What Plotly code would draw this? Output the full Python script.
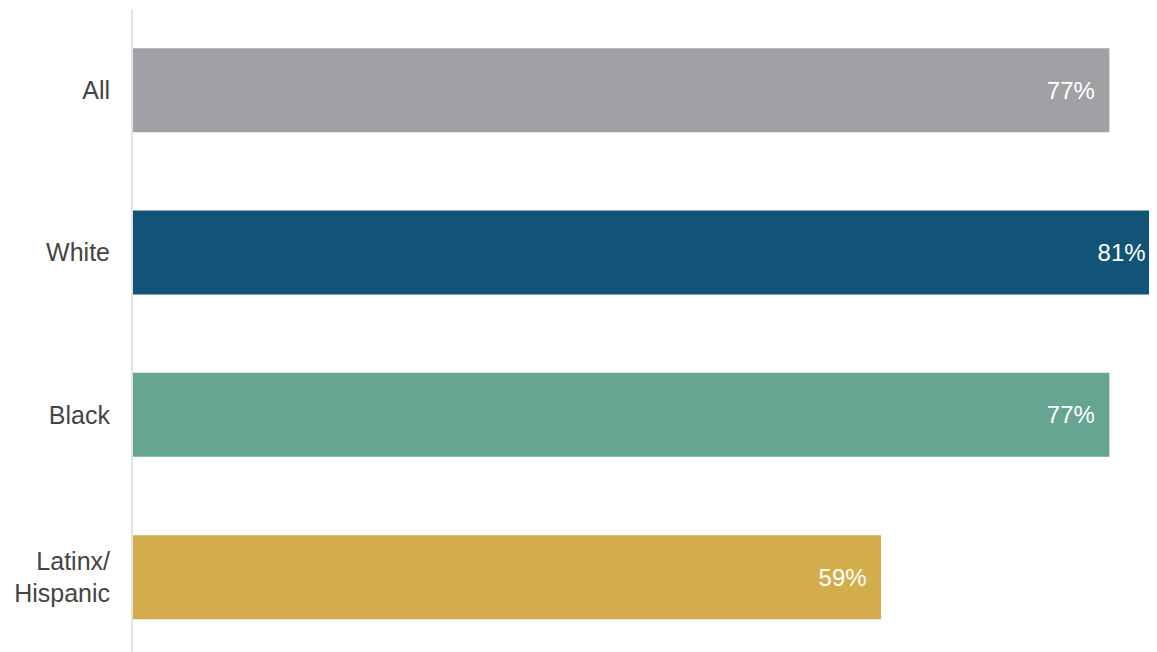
import plotly.graph_objects as go

categories = ["All", "White", "Black", "Latinx/<br>Hispanic"]
values = [77, 81, 77, 59]
colors = ["#a0a1a4", "#115478", "#66a591", "#d3ad4c"]

fig = go.Figure(
    go.Bar(
        x=values,
        y=categories,
        orientation="h",
        marker=dict(color=colors, line=dict(width=0)),
        text=[f"{v}%" for v in values],
        texttemplate="%{text}\u00a0\u2009",
        textposition="inside",
        insidetextanchor="end",
        insidetextfont=dict(color="white", size=24, family="Liberation Sans, Arial, sans-serif"),
        hoverinfo="skip",
        cliponaxis=True,
    )
)

# page body has an 8px margin, so the figure is sized/offset to compensate
fig.update_layout(
    width=1149,
    height=644,
    margin=dict(l=125, r=0, t=1, b=0),
    paper_bgcolor="white",
    plot_bgcolor="white",
    bargap=0.4825,
    showlegend=False,
    font=dict(family="Liberation Sans, Arial, sans-serif", size=25, color="#444444"),
)
fig.update_xaxes(range=[0, 80.76], visible=False, showgrid=False, zeroline=False)
fig.update_yaxes(
    categoryorder="array",
    categoryarray=categories,
    range=[3.461, -0.5],
    showline=True,
    linecolor="#e3e3e3",
    linewidth=2,
    showgrid=False,
    zeroline=False,
    ticks="",
    ticklabelstandoff=16,
    tickfont=dict(size=25, color="#444444"),
)

fig.write_html("out.html")
